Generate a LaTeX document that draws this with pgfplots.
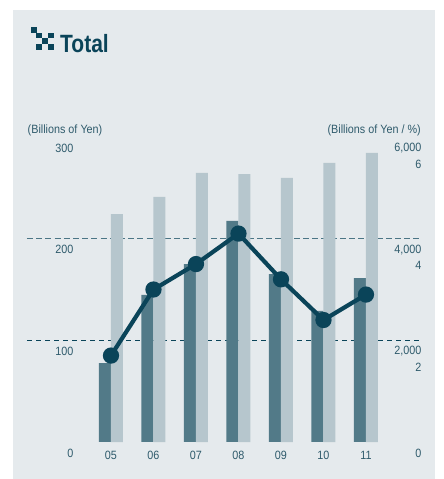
\documentclass[border=0pt]{standalone}
\usepackage{pgfplots}
\pgfplotsset{compat=1.18}
\usepackage{fontspec}
\setmainfont[FakeStretch=0.9]{Liberation Sans}
\newfontfamily\titlefont[FakeStretch=0.84]{Liberation Sans Bold}
\definecolor{panel}{HTML}{E5EAED}
\definecolor{darkbar}{HTML}{527A88}
\definecolor{lightbar}{HTML}{B6C6CD}
\definecolor{navy}{HTML}{0A4459}
\definecolor{lab}{HTML}{2F5B6C}
\pgfplotsset{
  base/.style={
    at={(27pt,37pt)}, anchor=south west,
    scale only axis, width=395pt, height=305pt,
    xmin=-1.976, xmax=7.318,
    axis line style={draw=none}, tick style={draw=none},
    clip=false,
    tick label style={font=\fontsize{12}{14}\selectfont, text=lab},
    /pgf/number format/assume math mode=true,
  }
}
\begin{document}
\begin{tikzpicture}[x=1pt,y=1pt]
\path[fill=white] (0,0) rectangle (444,479);
\path[fill=panel] (13,0.3) rectangle (435,469);
% icon
\foreach \a/\b in {31/446,36.3/440.7,47.8/440.7,42/435,36.3/429.3,47.8/429.3}{\path[fill=navy] (\a,\b) rectangle ++(5.7,5.7);}
\node[anchor=base west,inner sep=0,text=navy,font=\titlefont\fontsize{25}{27}\selectfont] at (60,426) {Total};
\node[anchor=base west,inner sep=0,text=lab,font=\fontsize{12}{14}\selectfont] at (27.5,345.5) {(Billions of Yen)};
\node[anchor=base east,inner sep=0,text=lab,font=\fontsize{12}{14}\selectfont] at (421,345.5) {(Billions of Yen / \%)};
% left axis: dark bars, dashed rules, category labels
\begin{axis}[base, ymin=0, ymax=300,
  ytick={0,100,200,300}, yticklabel pos=left,
  y tick label style={anchor=east, xshift=50pt, yshift=-11pt},
  xtick={0,...,6}, xticklabels={05,06,07,08,09,10,11},
  x tick label style={anchor=center, yshift=-13pt},
  xticklabel pos=bottom]
\addplot[navy, line width=0.8pt, dash pattern=on 6pt off 3.2pt, opacity=.7] coordinates {(-1.976,200) (7.318,200)};
\addplot[navy, line width=0.7pt, dash pattern=on 5pt off 4pt] coordinates {(-1.976,100) (7.318,100)};
\addplot[ybar, bar width=12pt, bar shift=-6pt, fill=darkbar, draw=none] coordinates {
 (0,77.7) (1,144.6) (2,175) (3,217.4) (4,165) (5,128.9) (6,161.3)};
\end{axis}
% right axis: light bars
\begin{axis}[base, ymin=0, ymax=6000,
  ytick={0,2000,4000,6000}, yticklabel pos=right, xtick=\empty,
  y tick label style={anchor=east, xshift=3pt, yshift=-11pt,
    /pgf/number format/1000 sep={,}},
  scaled y ticks=false]
\addplot[ybar, bar width=12pt, bar shift=6pt, fill=lightbar, draw=none] coordinates {
 (0,4485) (1,4820) (2,5292) (3,5272) (4,5194) (5,5489) (6,5686)};
\end{axis}
% ratio axis: line
\begin{axis}[base, ymin=0, ymax=6,
  ytick={2,4,6}, yticklabel pos=right, xtick=\empty,
  y tick label style={anchor=east, xshift=3pt, yshift=-27pt}]
\addplot[navy, line width=4.2pt, mark=*, mark size=6pt, mark options={fill=navy,draw=none}] coordinates {
 (0,1.70) (1,3.00) (2,3.50) (3,4.10) (4,3.20) (5,2.40) (6,2.90)};
\end{axis}
\end{tikzpicture}
\end{document}
